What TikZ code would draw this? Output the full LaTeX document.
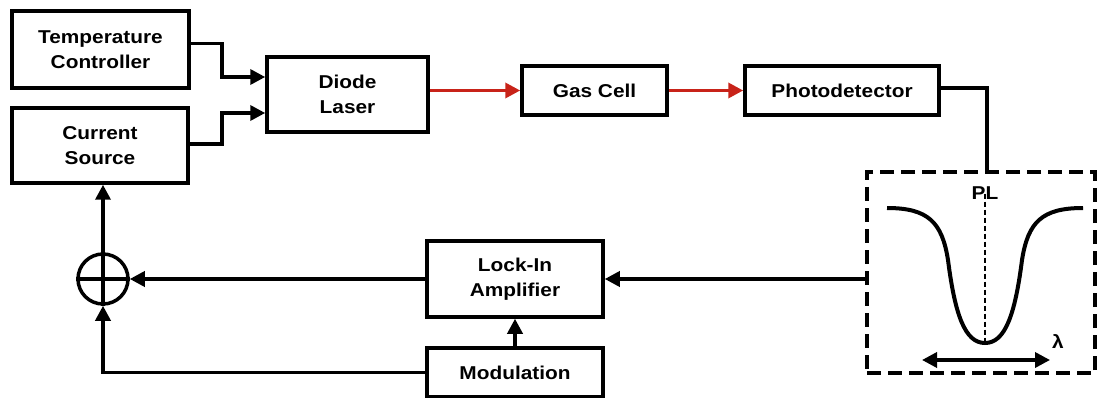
\documentclass[tikz,border=0pt]{standalone}
\usepackage{fontspec}
\setmainfont{Liberation Sans}[FakeStretch=1.12]
\usetikzlibrary{arrows.meta,calc}
\definecolor{laserred}{RGB}{200,35,25}
\tikzset{
  blk/.style={draw, line width=3.5pt, rectangle, align=center, inner sep=0pt,
    font=\fontsize{18.6}{25}\selectfont\bfseries},
  arr/.style={line width=3.5pt, -{Triangle[length=15pt,width=15pt]}},
  conn/.style={line width=3.5pt},
  redarr/.style={line width=3.5pt, color=laserred, -{Triangle[length=15pt,width=15pt]}},
  lbl/.style={font=\fontsize{18.6}{25}\selectfont\bfseries, inner sep=0pt}
}
\begin{document}
\begin{tikzpicture}[x=1pt,y=-1pt]
\useasboundingbox (0,0) rectangle (1097,398);
\node[blk, minimum width=177pt, minimum height=77pt] (tc) at (100.5,49.5) {Temperature\\Controller};
\node[blk, minimum width=176pt, minimum height=75pt] (cs) at (100,145.5) {Current\\Source};
\node[blk, minimum width=161pt, minimum height=75pt] (dl) at (347.5,94.5) {Diode\\Laser};
\node[blk, minimum width=145pt, minimum height=49pt] (gc) at (594.5,90.5) {Gas Cell};
\node[blk, minimum width=194pt, minimum height=49pt] (pd) at (842,90.5) {Photodetector};
\node[blk, minimum width=176pt, minimum height=76pt] (li) at (515,279) {Lock-In\\Amplifier};
\node[blk, minimum width=176pt, minimum height=49pt] (mo) at (515,372.5) {Modulation};
\node[draw, circle, line width=3.5pt, minimum size=50pt, inner sep=0pt] (sum) at (103,279) {};
\draw[conn] (sum.north) -- (sum.south);
\draw[conn] (sum.west) -- (sum.east);
\node[draw, line width=3.5pt, dash pattern=on 14pt off 7pt, minimum width=228pt, minimum height=201pt, inner sep=0pt] (plotbox) at (981,272.5) {};

% connectors
\draw[arr] ([yshift=6pt]tc.east) -- ++(31,0) |- ([yshift=17.5pt]dl.west);
\draw[arr] ([yshift=1.5pt]cs.east) -- ++(32,0) |- ([yshift=-18.5pt]dl.west);
\draw[redarr] (dl.east |- gc.west) -- (gc.west);
\draw[redarr] (gc.east) -- (pd.west);
\draw[conn] ([yshift=2.5pt]pd.east) -| ([xshift=6pt]plotbox.north);
\draw[arr] (plotbox.west |- li.east) -- (li.east);
\draw[arr] (li.west) -- (sum.east);
\draw[arr] (mo.north) -- (li.south);
\draw[arr] (mo.west) -| (sum.south);
\draw[arr] (sum.north) -- (cs.south -| sum.north);

% plot inside box
\coordinate (pmin) at (985,343);
\draw[line width=4pt] (887,208) .. controls (928,208) and (942,222) .. (948,260)
  .. controls (955,315) and (965,343) .. (pmin)
  .. controls (1005,343) and (1015,315) .. (1022,260)
  .. controls (1028,222) and (1042,208) .. (1083,208);
\node[lbl] (pl) at (985,193) {PL};
\draw[line width=1.2pt, dash pattern=on 5pt off 3pt] (pl.south) ++(0,-6) -- (pmin);
\coordinate (la) at (922,360);
\coordinate (lb) at (1050,360);
\draw[line width=3.5pt, {Triangle[length=15pt,width=15pt]}-{Triangle[length=15pt,width=15pt]}] (la) -- (lb);
\node[lbl] (lam) at (1058,342) {λ};
\end{tikzpicture}
\end{document}
